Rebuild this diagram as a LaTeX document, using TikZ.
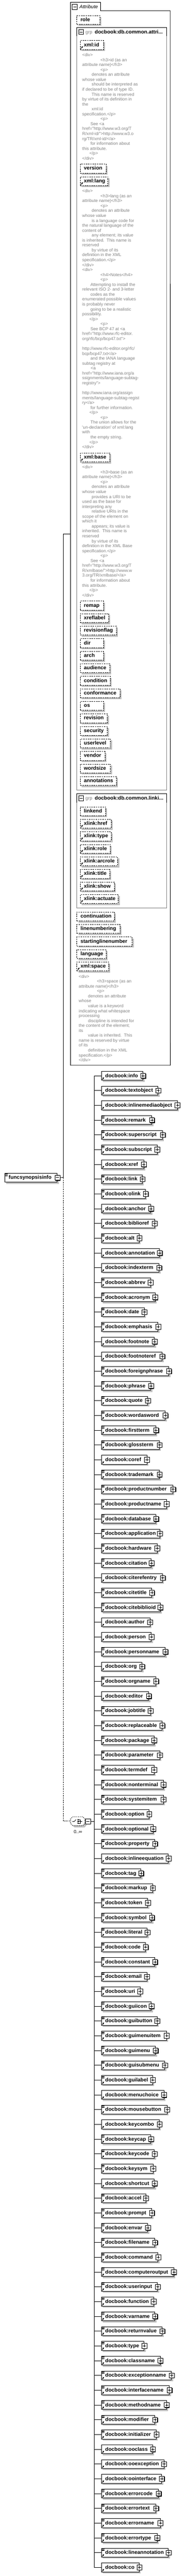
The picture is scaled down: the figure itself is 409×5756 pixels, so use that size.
\documentclass[tikz,border=0pt]{standalone}
\usepackage{fontspec}
\newfontfamily\lsans{Liberation Sans}
\usetikzlibrary{calc}
\definecolor{shadowgray}{RGB}{192,192,192}
\definecolor{descgray}{RGB}{128,128,128}
\definecolor{grpgray}{RGB}{128,128,128}

\newcount\dln
\newcommand\dblock[2]{\gdef\dbname{#1}\gdef\dby{#2}\global\dln=0\relax}
\newcommand\dl[2]{\node[desc] (\dbname-\the\dln) at ({#1},{\dby+3.5+11*\the\dln}) {#2};\global\advance\dln by 1\relax}
\newcommand\dskip{\global\advance\dln by 1\relax}

\newcommand\mkatt[6]{%
  \fill[shadowgray] ({#2+4},{#3+4}) rectangle ({#4+4},{#3+24});
  \node[attbox, minimum width={#4-#2}] (#1) at ({#2},{#3}) {};
  \node[lbl] (#1-t) at ({#2+8.5},{#3+13.5}) {#5};
  \ifnum#6=1 \pic at ({#2},{#3+20}) {refarrow};\fi
}

\tikzset{
  pics/plusbtn/.style={code={
    \fill[black] (-4.5,-4.5) rectangle (6.5,6.5);
    \filldraw[fill=white,draw=black,line width=1pt] (-5.5,-5.5) rectangle (5.5,5.5);
    \draw[line width=1pt] (-3.5,0) -- (3.5,0) (0,-3.5) -- (0,3.5);
  }},
  pics/minusbtn/.style={code={
    \fill[black] (-4.5,-4.5) rectangle (6.5,6.5);
    \filldraw[fill=white,draw=black,line width=1pt] (-5.5,-5.5) rectangle (5.5,5.5);
    \draw[line width=1pt] (-3.5,0) -- (3.5,0);
  }},
  pics/plainminus/.style={code={
    \filldraw[fill=white,draw=black,line width=1pt] (-5.5,-5.5) rectangle (5.5,5.5);
    \draw[line width=1pt] (-3.5,0) -- (3.5,0);
  }},
  pics/refarrow/.style={code={
    \fill[black] (6.6,-7.1) -- (5.3,-3.3) -- (2.8,-5.8) -- cycle;
    \draw[black,line width=1.2pt] (2.2,-2.0) -- (4.6,-4.6);
  }},
  pics/mixedicon/.style={code={
    \draw[black,line width=0.9pt] (1.8,2) -- (7.2,2) (1.8,4) -- (7.2,4) (1.8,6) -- (7.2,6);
  }},
}

\begin{document}
\begin{tikzpicture}[x=1pt,y=-1pt,
  lbl/.style={font=\lsans\fontsize{11.5}{13}\selectfont\bfseries, inner sep=0pt, anchor=base west},
  desc/.style={font=\lsans\fontsize{9.6}{11}\selectfont, text=descgray, inner sep=0pt, anchor=base west},
  attbox/.style={draw=black, line width=1pt, dash pattern=on 3pt off 2pt, fill=white, anchor=north west, minimum height=20pt, inner sep=0pt},
  ebox/.style={draw=black, line width=1pt, fill=white, anchor=north west, minimum height=20pt, inner sep=0pt},
  conn/.style={draw=black, line width=1pt},
  dconn/.style={draw=black, line width=1pt, dash pattern=on 3pt off 2pt},
]
\useasboundingbox (0,0) rectangle (409,5756);
\fill[white] (0,0) rectangle (409,5756);

% ---------- Attribute container ----------
\node[draw=none, minimum width=222pt, minimum height=2375pt, anchor=north west, inner sep=0pt] (attr) at (157,5) {};
\draw[line width=1pt] (attr.south west) -- (attr.north west) -- (224,5) -- (224,24) -- (379,24) -- (attr.south east) -- cycle;
\pic at (166.5,15.5) {plainminus};
\node[font=\lsans\itshape\fontsize{11}{13}\selectfont, inner sep=0pt, anchor=base west] (attrtitle) at (177,19.3) {Attribute};

\mkatt{aRole}{170.7}{34}{222}{role}{0}

% group 1
\draw[grpgray, line width=1pt] (170.3,81) -- (170.3,1765) -- (371.3,1765) -- (371.3,81);
\draw[black, line width=1pt] (170.3,81) -- (170.3,61.3) -- (371.3,61.3) -- (371.3,81);
\pic at (180.5,71.5) {plainminus};
\node[font=\lsans\fontsize{10.5}{12}\selectfont, text=descgray, inner sep=0pt, anchor=base west] (g1grp) at (190.3,75.3) {grp};
\node[lbl] (g1name) at (211,75.3) {docbook:db.common.attri...};

\mkatt{aXmlid}{178.3}{90.3}{230}{xml:id}{1}
\dblock{dA}{122.7}
\dl{183}{<div>}
\dl{223.7}{<h3>id (as an}
\dl{183}{attribute name)</h3>}
\dl{223.7}{<p>}
\dl{204}{denotes an attribute}
\dl{183}{whose value}
\dl{204}{should be interpreted as}
\dl{183}{if declared to be of type ID.}
\dl{204}{This name is reserved}
\dl{183}{by virtue of its definition in}
\dl{183}{the}
\dl{204}{xml:id}
\dl{183}{specification.</p>}
\dl{223.7}{<p>}
\dl{201.3}{See <a}
\dl{183}{href="http://www.w3.org/T}
\dl{183}{R/xml-id/">http://www.w3.o}
\dl{183}{rg/TR/xml-id/</a>}
\dl{201.3}{for information about}
\dl{183}{this attribute.}
\dl{199}{</p>}
\dl{183}{</div>}

\mkatt{aVersion}{178.3}{366.3}{236}{version}{0}
\mkatt{aXmllang}{178.3}{394.3}{240}{xml:lang}{1}
\dblock{dB}{426.7}
\dl{183}{<div>}
\dl{223.7}{<h3>lang (as an}
\dl{183}{attribute name)</h3>}
\dl{223.7}{<p>}
\dl{204}{denotes an attribute}
\dl{183}{whose value}
\dl{204}{is a language code for}
\dl{183}{the natural language of the}
\dl{183}{content of}
\dl{204}{any element; its value}
\dl{183}{is inherited.\ \ This name is}
\dl{183}{reserved}
\dl{204}{by virtue of its}
\dl{183}{definition in the XML}
\dl{183}{specification.</p>}
\dl{183}{</div>}
\dl{183}{<div>}
\dl{223.7}{<h4>Notes</h4>}
\dl{223.7}{<p>}
\dl{201.3}{Attempting to install the}
\dl{183}{relevant ISO 2- and 3-letter}
\dl{201.3}{codes as the}
\dl{183}{enumerated possible values}
\dl{183}{is probably never}
\dl{201.3}{going to be a realistic}
\dl{183}{possibility.}
\dl{199}{</p>}
\dl{223.7}{<p>}
\dl{201.3}{See BCP 47 at <a}
\dl{183}{href="http://www.rfc-editor.}
\dl{183}{org/rfc/bcp/bcp47.txt">}
\dskip
\dl{183}{http://www.rfc-editor.org/rfc/}
\dl{183}{bcp/bcp47.txt</a>}
\dl{201.3}{and the IANA language}
\dl{183}{subtag registry at}
\dl{202}{<a}
\dl{183}{href="http://www.iana.org/a}
\dl{183}{ssignments/language-subtag-}
\dl{183}{registry">}
\dskip
\dl{183}{http://www.iana.org/assign}
\dl{183}{ments/language-subtag-regist}
\dl{183}{ry</a>}
\dl{201.3}{for further information.}
\dl{199}{</p>}
\dl{223.7}{<p>}
\dl{201.3}{The union allows for the}
\dl{183}{'un-declaration' of xml:lang}
\dl{183}{with}
\dl{201.3}{the empty string.}
\dl{199}{</p>}
\dl{183}{</div>}

\mkatt{aXmlbase}{178.3}{1011.7}{243.7}{xml:base}{1}
\dblock{dC}{1043.7}
\dl{183}{<div>}
\dl{223.7}{<h3>base (as an}
\dl{183}{attribute name)</h3>}
\dl{223.7}{<p>}
\dl{204}{denotes an attribute}
\dl{183}{whose value}
\dl{204}{provides a URI to be}
\dl{183}{used as the base for}
\dl{183}{interpreting any}
\dl{204}{relative URIs in the}
\dl{183}{scope of the element on}
\dl{183}{which it}
\dl{204}{appears; its value is}
\dl{183}{inherited.\ \ This name is}
\dl{183}{reserved}
\dl{204}{by virtue of its}
\dl{183}{definition in the XML Base}
\dl{183}{specification.</p>}
\dl{223.7}{<p>}
\dl{201.3}{See <a}
\dl{183}{href="http://www.w3.org/T}
\dl{183}{R/xmlbase/">http://www.w}
\dl{183}{3.org/TR/xmlbase/</a>}
\dl{201.3}{for information about}
\dl{183}{this attribute.}
\dl{199}{</p>}
\dl{183}{</div>}

\foreach \nm/\rx [count=\i] in {remap/230, xreflabel/241.7, revisionflag/258.7, dir/230, arch/230, audience/243.7, condition/245, conformance/266.7, os/230, revision/238.7, security/238.7, userlevel/245.7, vendor/233.7, wordsize/245.7, annotations/258.7}{
  \pgfmathsetmacro\ty{1342.7+28*(\i-1)}
  \mkatt{gA\i}{178.3}{\ty}{\rx}{\nm}{0}
}

% group 2
\draw[grpgray, line width=1pt] (170.3,1793) -- (170.3,2029) -- (371.3,2029) -- (371.3,1793);
\draw[black, line width=1pt] (170.3,1793) -- (170.3,1773.3) -- (371.3,1773.3) -- (371.3,1793);
\pic at (180.5,1783.5) {plainminus};
\node[font=\lsans\fontsize{10.5}{12}\selectfont, text=descgray, inner sep=0pt, anchor=base west] (g2grp) at (190.3,1787.3) {grp};
\node[lbl] (g2name) at (211,1787.3) {docbook:db.common.linki...};
\foreach \nm/\rx/\fl [count=\i] in {linkend/234.7/0, xlink:href/247/1, xlink:type/247/1, xlink:role/245/1, xlink:arcrole/261.7/1, xlink:title/243.7/1, xlink:show/254/1, xlink:actuate/263/1}{
  \pgfmathsetmacro\ty{1802.3+28*(\i-1)}
  \mkatt{gB\i}{178.3}{\ty}{\rx}{\nm}{\fl}
}

\foreach \nm/\rx/\fl [count=\i] in {continuation/254/0, linenumbering/266.7/0, startinglinenumber/294/0, language/235.7/0, xml:space/241.7/1}{
  \pgfmathsetmacro\ty{2037.3+28*(\i-1)}
  \mkatt{gC\i}{170.7}{\ty}{\rx}{\nm}{\fl}
}
\dblock{dD}{2181.7}
\dl{175.3}{<div>}
\dl{215.7}{<h3>space (as an}
\dl{175.3}{attribute name)</h3>}
\dl{215.7}{<p>}
\dl{196}{denotes an attribute}
\dl{175.3}{whose}
\dl{196}{value is a keyword}
\dl{175.3}{indicating what whitespace}
\dl{175.3}{processing}
\dl{196}{discipline is intended for}
\dl{175.3}{the content of the element;}
\dl{175.3}{its}
\dl{196}{value is inherited.\ \ This}
\dl{175.3}{name is reserved by virtue}
\dl{175.3}{of its}
\dl{196}{definition in the XML}
\dl{175.3}{specification.</p>}
\dl{175.3}{</div>}

% ---------- root element ----------
\fill[shadowgray] (14,2625) rectangle (131,2645);
\node[ebox, minimum width=117pt] (root) at (10,2621) {};
\pic at (root.north west) {mixedicon};
\node[lbl] (roott) at (19.3,2635) {funcsynopsisinfo};
\pic at (root.east) {minusbtn};
\coordinate (rootout) at ($(root.east)+(5.5,0)$);
\coordinate (jA) at (141,2631);
\draw[conn] (rootout) -- (jA);
\draw[conn] (jA) |- (attr.west);

% ---------- choice compositor ----------
\node[draw=none, minimum width=32pt, minimum height=20pt, inner sep=0pt] (comp) at (173,4069.3) {};
\fill[shadowgray] (166,4063.3) -- (188,4063.3) -- (193,4068.3) -- (193,4078.3) -- (188,4083.3) -- (166,4083.3) -- (161,4078.3) -- (161,4068.3) -- cycle;
\draw[black, line width=1pt, dash pattern=on 2pt off 2pt, fill=white] (162,4059.3) -- (184,4059.3) -- (189,4064.3) -- (189,4074.3) -- (184,4079.3) -- (162,4079.3) -- (157,4074.3) -- (157,4064.3) -- cycle;
\draw[black, line width=0.9pt] (161,4070) -- (165.5,4070) -- (169.5,4065.5);
\fill[black] (172.3,4064.8) rectangle (174.8,4067.3);
\fill[black] (172.3,4068.8) rectangle (174.8,4071.3);
\fill[black] (172.3,4072.8) rectangle (174.8,4075.3);
\draw[black, line width=0.9pt] (174.8,4066) -- (179,4066) -- (179,4074) -- (174.8,4074) (174.8,4070) -- (183.5,4070);
\draw[dconn] (jA) |- (comp.west);
\pic at (196,4069.8) {minusbtn};
\coordinate (compout) at (201.5,4069.8);
\node[font=\lsans\fontsize{10}{12}\selectfont, inner sep=0pt, anchor=base west] (compocc) at (164.3,4096.5) {0..∞};

% ---------- children ----------
\coordinate (bus) at (210,0);
\foreach \nm/\rx/\mx [count=\i] in {info/317.8/0, textobject/351.5/0, inlinemediaobject/394.5/0, remark/337.5/1, superscript/361.5/1, subscript/349.5/1, xref/319.5/0, link/316.5/1, olink/323.5/1, anchor/335.5/0, biblioref/343.8/0, alt/309.5/1, annotation/354.8/0, indexterm/353.5/0, abbrev/334.5/1, acronym/344.8/1, date/320.8/1, emphasis/351.5/1, footnote/343.5/0, footnoteref/360.5/0, foreignphrase/375.5/1, phrase/335.5/1, quote/328.5/1, wordasword/367.5/1, firstterm/346.5/1, glossterm/354.5/1, coref/326.5/0, trademark/354.5/1, productnumber/384.5/1, productname/370.5/1, database/346.5/1, application/355.5/1, hardware/349.5/1, citation/336.5/1, citerefentry/361.5/0, citetitle/337.5/1, citebiblioid/356.5/1, author/333.5/0, person/336.5/0, personname/367.5/1, org/315.5/0, orgname/346.5/1, editor/330.5/0, jobtitle/334.5/1, replaceable/360.5/1, package/342.5/1, parameter/355.5/1, termdef/342.5/1, nonterminal/363.5/1, systemitem/363.5/1, option/331.5/1, optional/340.5/1, property/344.5/1, inlineequation/374.5/0, tag/313.2/1, markup/339.5/1, token/328.5/1, symbol/337.5/1, literal/327.5/1, code/323.5/1, constant/344.5/1, email/326.5/1, uri/311.5/1, guiicon/336.5/1, guibutton/349.5/1, guimenuitem/370.5/1, guimenu/345.5/1, guisubmenu/366.5/1, guilabel/339.5/1, menuchoice/364.5/0, mousebutton/371.5/1, keycombo/354.5/0, keycap/335.5/1, keycode/343.5/1, keysym/340.5/1, shortcut/343.5/0, accel/324.2/1, prompt/337.5/1, envar/328.5/1, filename/344.5/1, command/351.5/1, computeroutput/386.5/1, userinput/350.5/1, function/341.5/1, varname/344.5/1, returnvalue/360.5/1, type/320.5/1, classname/356.5/1, exceptionname/381.5/1, interfacename/376.5/1, methodname/370.5/1, modifier/344.5/1, initializer/347.5/1, ooclass/339.5/0, ooexception/364.5/0, oointerface/359.5/0, errorcode/352.5/1, errortext/346.5/1, errorname/356.5/1, errortype/349.5/1, lineannotation/374.5/1, co/309.5/0}{
  \pgfmathsetmacro\ty{2393.3+33*(\i-1)}
  \fill[shadowgray] ({229.3},{\ty+4}) rectangle ({\rx+4},{\ty+24});
  \node[ebox, minimum width={\rx-225.3}] (c\i) at ({225.3},{\ty}) {};
  \node[lbl] (t\i) at ({234.3},{\ty+14}) {docbook:\nm};
  \ifnum\mx=1 \pic at (c\i.north west) {mixedicon};\fi
  \pic at (c\i.south west) {refarrow};
  \pic at (c\i.east) {plusbtn};
  \draw[conn] (bus |- c\i.west) -- (c\i.west);
}
\draw[conn] (compout) -- (bus |- compout);
\draw[conn] (bus |- c1.west) -- (bus |- c102.west);
\end{tikzpicture}
\end{document}
